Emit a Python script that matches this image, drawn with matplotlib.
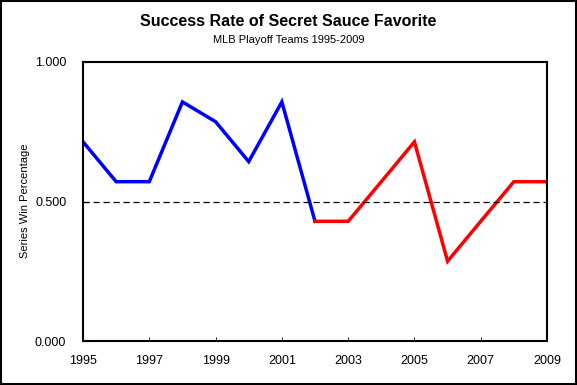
import matplotlib
matplotlib.use("Agg")
import matplotlib.pyplot as plt
from matplotlib.patches import Rectangle

# Series win percentage of the "secret sauce" favorite, by year
years = [1995, 1996, 1997, 1998, 1999, 2000, 2001, 2002,
         2003, 2004, 2005, 2006, 2007, 2008, 2009]
win_pct = [0.714, 0.571, 0.571, 0.857, 0.786, 0.643, 0.857, 0.429,
           0.429, 0.571, 0.714, 0.286, 0.429, 0.571, 0.571]
split_year = 2002
year_ticks = [1995, 1997, 1999, 2001, 2003, 2005, 2007, 2009]
pct_ticks = [0.0, 0.5, 1.0]

plt.rcParams['font.family'] = ['Liberation Sans Narrow', 'Liberation Sans', 'DejaVu Sans']

fig = plt.figure(figsize=(5.77, 3.85), dpi=100)
ax = fig.add_axes([83 / 577, 1 - 341 / 385, (547 - 83) / 577, (341 - 62) / 385])

i = years.index(split_year)
ax.plot(years[:i + 1], win_pct[:i + 1], color='#0000ff', linewidth=2.5, solid_joinstyle='miter')
ax.plot(years[i:], win_pct[i:], color='#ff0000', linewidth=2.5, solid_joinstyle='miter')
ax.axhline(0.5, color='black', linestyle=(0, (5, 3)), linewidth=0.9)

ax.set_xlim(years[0], years[-1])
ax.set_ylim(0, 1)
ax.set_xticks(year_ticks)
ax.set_yticks(pct_ticks)
ax.set_yticklabels([f"{v:.3f}" for v in pct_ticks])
ax.tick_params(axis='x', direction='in', length=3, width=0.6, labelsize=9, pad=10)
ax.tick_params(axis='y', direction='in', length=4, width=0.8, labelsize=9, pad=12)
for s in ax.spines.values():
    s.set_linewidth(1.5)

fig.text(25 / 577, 1 - 201 / 385, "Series Win Percentage", rotation=90,
         ha='center', va='center', fontsize=8)

fig.text(0.5, 1 - 22 / 385, "Success Rate of Secret Sauce Favorite",
         ha='center', va='center', fontsize=11.5, fontweight='bold')
fig.text(0.5, 1 - 40 / 385, "MLB Playoff Teams 1995-2009",
         ha='center', va='center', fontsize=8)

fig.patches.append(Rectangle((0.002, 0.003), 0.996, 0.994, transform=fig.transFigure,
                             fill=False, edgecolor='black', linewidth=1.5))

fig.savefig("out.png", dpi=100)
